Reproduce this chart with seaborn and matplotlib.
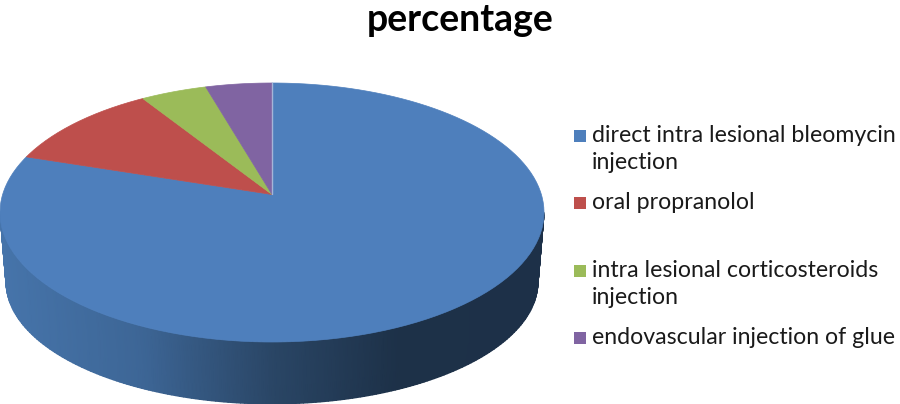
import numpy as np
import matplotlib
matplotlib.use('Agg')
import matplotlib.pyplot as plt
from matplotlib.colors import LinearSegmentedColormap
from matplotlib.patches import Polygon
from matplotlib.transforms import Affine2D
import seaborn as sns

title = 'percentage'
labels = ['direct intra lesional bleomycin\ninjection',
          'oral propranolol',
          'intra lesional corticosteroids\ninjection',
          'endovascular injection of glue']
values = [80, 11, 4.5, 4.5]
colors = ['#4e7fbc', '#be4f4c', '#9bbb59', '#8064a2']
wall_colors = ['#4674aa', '#3d6696', '#2a4666', '#1d3148', '#1d3048']

sns.set_theme(style='white')
plt.rcParams['font.family'] = ['Lato', 'DejaVu Sans']

# perspective of the disc, in pixels of the picture
cx, cy, rx, ry = 272, 212.5, 272, 129.5
tilt = 0.139


def project(xy):
    u, v = xy[:, 0], xy[:, 1]
    d = 1 + tilt * v
    return np.column_stack([cx + rx * np.sqrt(1 - tilt ** 2) * u / d,
                            cy - ry * (v + tilt) / d])


fig = plt.figure(figsize=(9, 4.04), dpi=100)
ax = fig.add_axes([0, 0, 1, 1])
wedges, _ = ax.pie(values, startangle=90, counterclock=False, colors=sns.color_palette(colors))
ax.set_aspect('auto')
ax.set_xlim(0, 900)
ax.set_ylim(404, 0)

# side wall
t = np.linspace(np.pi, 2 * np.pi, 200)
top_x, top_y = cx + rx * np.cos(t), cy - ry * np.sin(t)
bot_x, bot_y = cx + 266 * np.cos(t), 282 - 122 * np.sin(t)
shade = np.interp(top_x, [0, 140, 272, 400, 544], [0, 0.25, 0.5, 0.75, 1])
cmap = LinearSegmentedColormap.from_list('wall', wall_colors)
ax.pcolormesh(np.array([top_x, bot_x]), np.array([top_y, bot_y]), np.array([shade, shade]),
              shading='gouraud', cmap=cmap, vmin=0, vmax=1, zorder=1)

# top face: the pie wedges pushed through the perspective
for w, c in zip(wedges, colors):
    poly = w.get_path().transformed(Affine2D().scale(500)).to_polygons()[0] / 500
    w.remove()
    ax.add_patch(Polygon(project(poly), closed=True, fc=c, ec=c, lw=0.5, zorder=2))
seam = project(np.array([[0.0, 0.0], [0.0, 1.0]]))
ax.plot(seam[:, 0], seam[:, 1], color='#a5b5d8', lw=1, zorder=3)

# legend
ax.text(460, 31, title, ha='center', va='baseline', fontsize=27, fontweight='bold', color='black')
square_y = [135.5, 202.5, 270.5, 337.5]
text_y = [142, 209, 277, 344]
for lab, c, sy, ty in zip(labels, colors, square_y, text_y):
    ax.scatter([580], [sy], marker='s', s=81, color=c, linewidths=0)
    for i, line in enumerate(lab.split('\n')):
        ax.text(592, ty + 27 * i, line, ha='left', va='baseline', fontsize=16.7, color='#1a1a1a')

fig.savefig('out.png', dpi=100)
